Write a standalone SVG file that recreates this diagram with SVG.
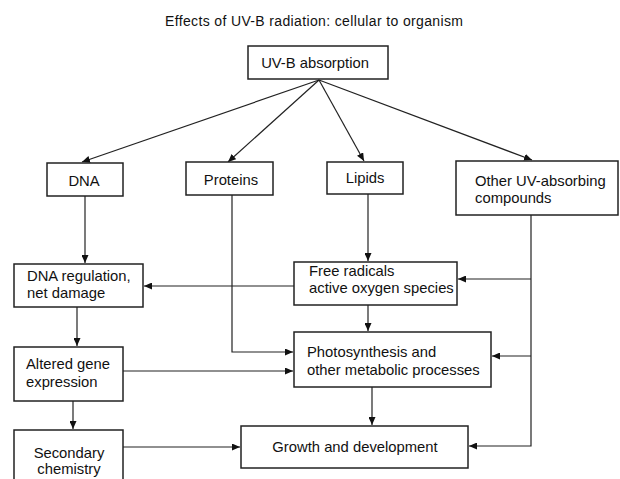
<svg xmlns="http://www.w3.org/2000/svg" width="620" height="479" viewBox="0 0 620 479">
<defs>
<marker id="ah" markerUnits="userSpaceOnUse" markerWidth="9" markerHeight="7" refX="8" refY="3.5" orient="auto">
<path d="M0,0 L8,3.5 L0,7 z" fill="#111"/>
</marker>
<style>
.box{fill:#fff;stroke:#222;stroke-width:1.5}
.t{font-family:"Liberation Sans",Arial,sans-serif;font-size:14.8px;fill:#111}
.c{text-anchor:middle}
.ln{fill:none;stroke:#222;stroke-width:1.2;marker-end:url(#ah)}
</style>
</defs>
<rect width="620" height="479" fill="#fff"/>
<text class="t c" x="314" y="26" textLength="298" lengthAdjust="spacing" style="font-size:14px">Effects of UV-B radiation: cellular to organism</text>
<g id="connectors">
<path class="ln" d="M319,80 L82,162"/>
<path class="ln" d="M319,80 L228,162"/>
<path class="ln" d="M319,80 L364,161"/>
<path class="ln" d="M319,80 L532,160"/>
<path class="ln" d="M85,196 L85,263"/>
<path class="ln" d="M232,195 L232,352 L293,352"/>
<path class="ln" d="M368,194 L368,261"/>
<path class="ln" d="M531,215 L531,446 L469,446"/>
<path class="ln" d="M531,279 L458,279"/>
<path class="ln" d="M531,356 L492,356"/>
<path class="ln" d="M294,286 L144,286"/>
<path class="ln" d="M368,305 L368,331"/>
<path class="ln" d="M77,307 L77,346"/>
<path class="ln" d="M123,371 L293,371"/>
<path class="ln" d="M73,401 L73,429"/>
<path class="ln" d="M123,447 L240,447"/>
<path class="ln" d="M372,387 L372,425"/>
</g>
<g id="uvb"><rect class="box" x="248" y="46" width="140" height="33"/><text class="t c" x="315" y="68">UV-B absorption</text></g>
<g id="dna"><rect class="box" x="47" y="163" width="76" height="33"/><text class="t c" x="84" y="186">DNA</text></g>
<g id="proteins"><rect class="box" x="186" y="162" width="87" height="33"/><text class="t c" x="231" y="185">Proteins</text></g>
<g id="lipids"><rect class="box" x="327" y="162" width="76" height="32"/><text class="t c" x="365" y="183">Lipids</text></g>
<g id="other"><rect class="box" x="456" y="161" width="162" height="54"/><text class="t" x="475" y="186">Other UV-absorbing</text><text class="t" x="475" y="203">compounds</text></g>
<g id="dnareg"><rect class="box" x="14" y="264" width="129" height="43"/><text class="t" x="27" y="281">DNA regulation,</text><text class="t" x="27" y="298">net damage</text></g>
<g id="freerad"><rect class="box" x="294" y="262" width="163" height="43"/><text class="t" x="309" y="276">Free radicals</text><text class="t" x="309" y="293">active oxygen species</text></g>
<g id="altered"><rect class="box" x="14" y="347" width="109" height="54"/><text class="t" x="26" y="369">Altered gene</text><text class="t" x="26" y="387">expression</text></g>
<g id="photo"><rect class="box" x="294" y="332" width="197" height="55"/><text class="t" x="307" y="357">Photosynthesis and</text><text class="t" x="307" y="375">other metabolic processes</text></g>
<g id="secondary"><rect class="box" x="14" y="430" width="109" height="60"/><text class="t c" x="69" y="458">Secondary</text><text class="t c" x="69" y="474">chemistry</text></g>
<g id="growth"><rect class="box" x="241" y="426" width="227" height="42"/><text class="t c" x="355" y="452">Growth and development</text></g>
</svg>
